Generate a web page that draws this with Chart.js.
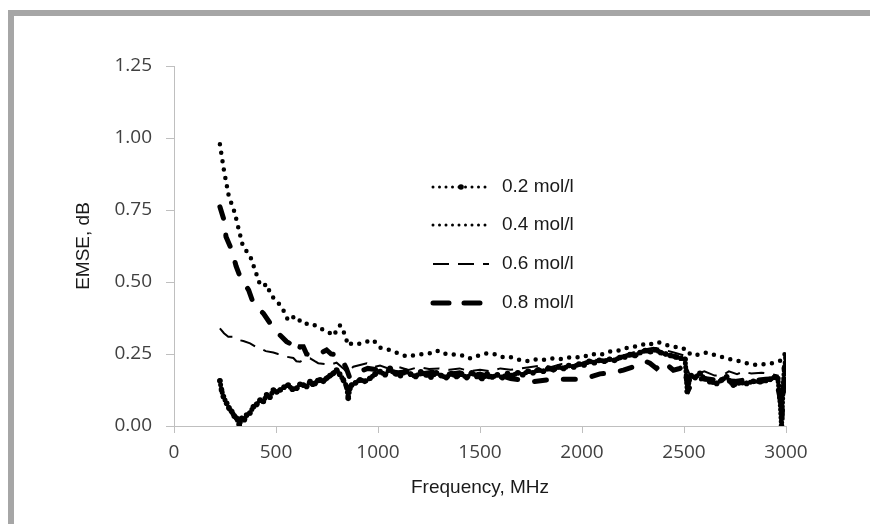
<!DOCTYPE html>
<html>
<head>
<meta charset="utf-8">
<script src="https://cdn.jsdelivr.net/npm/chart.js@4.4.1/dist/chart.umd.min.js"></script>
<style>
  html, body { margin: 0; padding: 0; background: #fff; }
  #frame { position: absolute; left: 8px; top: 10px; width: 900px; height: 560px;
           border-left: 6px solid #a6a6a6; border-top: 6px solid #a6a6a6; }
  #mycanvas { position: absolute; left: 0; top: 0; }
</style>
</head>
<body>
<div id="frame"></div>
<canvas id="mycanvas" width="870" height="524"></canvas>
<script>
// values (frequency in MHz, EMSE in dB)
var labels = ['0.2 mol/l', '0.4 mol/l', '0.6 mol/l', '0.8 mol/l'];

var freq02 = [225,233,242,258,270,283,295,307,320,332,
  345,356,372,389,405,422,438,454,470,487,
  503,520,540,560,580,601,618,634,650,667,
  680,691,705,716,732,748,765,781,797,812,
  830,846,854,862,871,890,912,935,961,985,
  1010,1035,1059,1085,1110,1135,1160,1185,1210,1235,
  1260,1285,1310,1335,1360,1385,1410,1435,1460,1485,
  1510,1535,1560,1585,1610,1635,1660,1685,1710,1735,
  1760,1785,1810,1835,1860,1885,1910,1935,1960,1985,
  2010,2035,2060,2085,2110,2135,2160,2185,2210,2235,
  2260,2285,2310,2335,2360,2385,2410,2435,2460,2485,
  2505,2512,2516,2522,2535,2555,2578,2600,2627,2660,
  2685,2709,2725,2742,2770,2807,2840,2873,2900,2922,
  2945,2960,2970,2978,2985,2992,3000];
var emse02 = [0.157,0.125,0.102,0.079,0.062,0.050,0.035,0.027,0.004,0.027,
  0.022,0.038,0.045,0.067,0.075,0.090,0.085,0.108,0.100,0.125,
  0.118,0.125,0.135,0.142,0.128,0.131,0.145,0.142,0.137,0.154,
  0.145,0.148,0.158,0.160,0.155,0.166,0.175,0.183,0.194,0.180,
  0.160,0.137,0.096,0.130,0.142,0.150,0.160,0.155,0.166,0.180,
  0.189,0.178,0.200,0.182,0.175,0.190,0.180,0.172,0.188,0.178,
  0.170,0.185,0.175,0.168,0.182,0.172,0.180,0.168,0.185,0.172,
  0.165,0.180,0.170,0.178,0.168,0.182,0.175,0.185,0.178,0.190,
  0.185,0.195,0.190,0.200,0.195,0.205,0.200,0.210,0.205,0.215,
  0.212,0.225,0.220,0.228,0.225,0.232,0.228,0.238,0.240,0.248,
  0.245,0.255,0.262,0.258,0.265,0.255,0.250,0.245,0.240,0.235,
  0.232,0.170,0.120,0.150,0.175,0.168,0.183,0.165,0.154,0.148,
  0.160,0.171,0.155,0.142,0.150,0.148,0.155,0.154,0.158,0.162,
  0.170,0.165,0.100,0.000,0.120,0.200,0.240];

var freq04 = [225,245,268,297,317,337,376,397,422,438,
  454,475,500,528,560,593,634,675,716,757,
  781,814,827,843,850,879,912,945,977,1010,
  1040,1075,1108,1141,1190,1255,1288,1320,1353,1385,
  1418,1451,1467,1500,1533,1582,1615,1647,1696,1729,
  1765,1800,1850,1900,1950,2000,2045,2088,2130,2170,
  2210,2252,2290,2317,2350,2380,2415,2455,2497,2520,
  2540,2562,2590,2611,2645,2676,2710,2742,2770,2791,
  2825,2856,2880,2905,2930,2954,2980,3000];
var emse04 = [0.978,0.887,0.800,0.742,0.684,0.627,0.585,0.542,0.490,0.485,
  0.493,0.455,0.435,0.414,0.366,0.382,0.354,0.356,0.339,0.327,
  0.313,0.350,0.333,0.310,0.281,0.289,0.285,0.293,0.299,0.272,
  0.268,0.258,0.250,0.241,0.247,0.253,0.262,0.250,0.252,0.245,
  0.245,0.235,0.241,0.245,0.252,0.248,0.238,0.240,0.229,0.225,
  0.232,0.228,0.235,0.232,0.240,0.238,0.250,0.246,0.258,0.260,
  0.270,0.275,0.280,0.289,0.283,0.290,0.281,0.275,0.270,0.250,
  0.255,0.247,0.250,0.255,0.248,0.241,0.235,0.229,0.225,0.220,
  0.216,0.212,0.215,0.214,0.218,0.223,0.228,0.261];

var freq06 = [225,245,266,291,315,340,373,400,422,450,
  487,510,528,555,585,600,618,640,667,690,
  707,740,765,797,830,850,879,912,945,980,
  1010,1050,1100,1150,1200,1250,1300,1350,1400,1450,
  1500,1550,1600,1650,1700,1750,1800,1850,1900,1950,
  2000,2050,2100,2150,2200,2250,2300,2350,2400,2450,
  2500,2515,2530,2560,2600,2650,2691,2720,2760,2791,
  2830,2880,2930,2960,2975,2985,3000];
var emse06 = [0.339,0.322,0.310,0.310,0.299,0.295,0.287,0.275,0.270,0.260,
  0.255,0.250,0.247,0.240,0.236,0.225,0.223,0.232,0.235,0.225,
  0.218,0.215,0.212,0.220,0.200,0.185,0.206,0.212,0.218,0.205,
  0.210,0.200,0.205,0.195,0.205,0.198,0.200,0.195,0.200,0.190,
  0.195,0.190,0.200,0.195,0.200,0.205,0.210,0.205,0.215,0.210,
  0.220,0.232,0.225,0.235,0.245,0.255,0.265,0.272,0.265,0.255,
  0.245,0.200,0.175,0.180,0.190,0.175,0.177,0.190,0.180,0.189,
  0.182,0.185,0.180,0.175,0.050,0.150,0.220];

var freq08 = [225,245,255,283,304,327,350,366,389,410,
  438,471,490,503,552,580,600,610,618,634,
  650,680,700,716,748,770,797,820,845,860,
  880,912,950,1000,1050,1100,1150,1200,1250,1300,
  1350,1400,1450,1500,1550,1600,1650,1700,1762,1827,
  1870,1908,1974,2023,2088,2153,2203,2250,2284,2310,
  2333,2365,2399,2448,2480,2500,2515,2525,2545,2600,
  2650,2700,2750,2800,2850,2900,2950,2970,2980,2990,
  3000];
var emse08 = [0.761,0.715,0.657,0.611,0.556,0.513,0.490,0.472,0.426,0.410,
  0.391,0.357,0.340,0.327,0.293,0.282,0.262,0.260,0.275,0.275,
  0.250,0.245,0.247,0.252,0.264,0.250,0.247,0.235,0.200,0.170,
  0.180,0.190,0.200,0.195,0.190,0.185,0.190,0.180,0.185,0.190,
  0.180,0.185,0.175,0.180,0.170,0.175,0.165,0.160,0.154,0.160,
  0.158,0.162,0.162,0.166,0.181,0.185,0.194,0.205,0.215,0.225,
  0.218,0.200,0.223,0.194,0.200,0.210,0.150,0.130,0.160,0.165,
  0.160,0.158,0.155,0.160,0.158,0.162,0.165,0.100,0.020,0.160,
  0.200];

var xTicks = [0, 500, 1000, 1500, 2000, 2500, 3000];
var yTicks = [0, 0.25, 0.5, 0.75, 1.0, 1.25];

function toPoints(xs, ys) {
  var pts = [];
  for (var i in xs) {
    pts.push({x: xs[i], y: ys[i]});
  }
  return pts;
}

var axisColor = '#bfbfbf';
var tickFont = {family: '"Open Sans", "Liberation Sans", sans-serif', size: 19};
var textFont = {family: '"Liberation Sans", Arial, sans-serif', size: 19};

// legend drawn inside the plot like the original
var insideLegend = {
  id: 'insideLegend',
  afterDraw: function(chart) {
    var ctx = chart.ctx;
    var rows = [187, 225, 264, 303];
    chart.data.datasets.forEach(function(ds, i) {
      var y = rows[i];
      ctx.save();
      ctx.strokeStyle = ds.borderColor;
      ctx.lineWidth = ds.legendWidth;
      ctx.lineCap = ds.borderCapStyle;
      ctx.setLineDash(ds.legendDash);
      ctx.beginPath();
      ctx.moveTo(433, y);
      ctx.lineTo(489, y);
      ctx.stroke();
      if (ds.pointRadius > 0) {
        ctx.setLineDash([]);
        ctx.fillStyle = ds.pointBackgroundColor;
        ctx.beginPath();
        ctx.arc(461, y, ds.pointRadius, 0, Math.PI * 2);
        ctx.fill();
      }
      ctx.fillStyle = '#1a1a1a';
      ctx.font = textFont.size + 'px ' + textFont.family;
      ctx.textBaseline = 'middle';
      ctx.textAlign = 'left';
      ctx.fillText(ds.label, 502, y);
      ctx.restore();
    });
  }
};

var chartdata = {
  datasets: [
    {
      label: labels[0],
      data: toPoints(freq02, emse02),
      borderColor: '#000',
      borderWidth: 5,
      borderDash: [0, 4],
      borderCapStyle: 'round',
      pointRadius: 2.8,
      pointBackgroundColor: '#000',
      pointBorderWidth: 0,
      legendWidth: 3,
      legendDash: [0, 6.5]
    },
    {
      label: labels[1],
      data: toPoints(freq04, emse04),
      borderColor: '#000',
      borderWidth: 4.5,
      borderDash: [0, 8.5],
      borderCapStyle: 'round',
      pointRadius: 0,
      legendWidth: 3,
      legendDash: [0, 6.5]
    },
    {
      label: labels[2],
      data: toPoints(freq06, emse06),
      borderColor: '#000',
      borderWidth: 2,
      borderDash: [16, 9],
      borderCapStyle: 'butt',
      pointRadius: 0,
      legendWidth: 2,
      legendDash: [16, 9]
    },
    {
      label: labels[3],
      data: toPoints(freq08, emse08),
      borderColor: '#000',
      borderWidth: 5,
      borderDash: [12, 17],
      borderCapStyle: 'round',
      pointRadius: 0,
      legendWidth: 5,
      legendDash: [16, 15]
    }
  ]
};

var ctx = document.getElementById('mycanvas');

var lineGraph = new Chart(ctx, {
  type: 'line',
  data: chartdata,
  plugins: [insideLegend],
  options: {
    responsive: false,
    animation: false,
    devicePixelRatio: 1,
    layout: {padding: {left: 0, top: 66, right: 84, bottom: 0}},
    plugins: {legend: {display: false}, tooltip: {enabled: false}},
    elements: {line: {tension: 0}},
    scales: {
      x: {
        type: 'linear',
        min: 0,
        max: 3000,
        afterBuildTicks: function(scale) {
          scale.ticks = xTicks.map(function(v) { return {value: v}; });
        },
        afterFit: function(scale) { scale.height = 98; },
        grid: {drawOnChartArea: false, drawTicks: true, tickLength: 7, color: axisColor},
        border: {color: axisColor, width: 1},
        ticks: {color: '#404040', font: tickFont, padding: 8, maxRotation: 0,
                callback: function(v) { return String(v); }},
        title: {display: true, text: 'Frequency, MHz', color: '#1a1a1a', font: textFont,
                padding: {top: 0, bottom: 25}}
      },
      y: {
        type: 'linear',
        min: 0,
        max: 1.25,
        afterBuildTicks: function(scale) {
          scale.ticks = yTicks.map(function(v) { return {value: v}; });
        },
        afterFit: function(scale) { scale.width = 174; },
        grid: {drawOnChartArea: false, drawTicks: true, tickLength: 8, color: axisColor},
        border: {color: axisColor, width: 1},
        ticks: {color: '#404040', font: tickFont, padding: 14,
                callback: function(v) { return v.toFixed(2); }},
        title: {display: true, text: 'EMSE, dB', color: '#1a1a1a', font: textFont,
                padding: {top: 72, bottom: 0}}
      }
    }
  }
});
</script>
</body>
</html>
